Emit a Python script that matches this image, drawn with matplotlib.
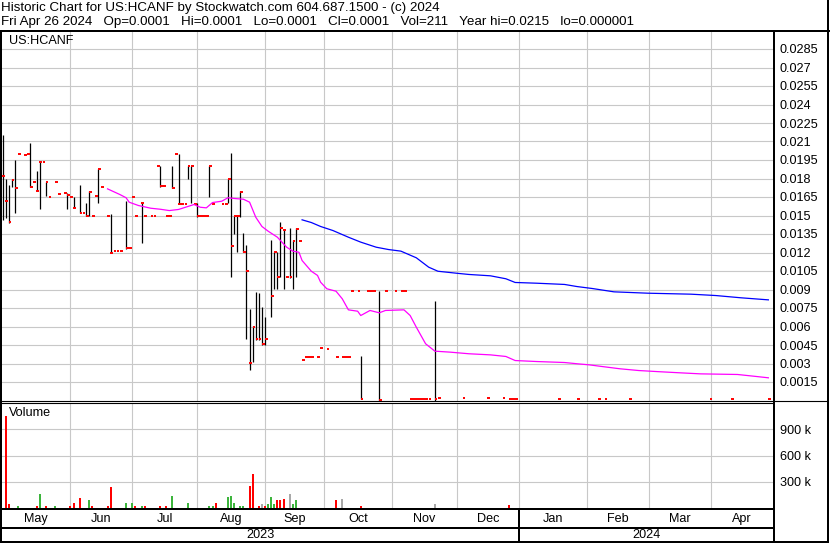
import numpy as np
import matplotlib
matplotlib.use("Agg")
import matplotlib.pyplot as plt
from matplotlib.lines import Line2D

plt.rcParams['font.family'] = ['Liberation Sans', 'DejaVu Sans']

W, H = 830, 543

# x = trading session index, 0 = first session of May 2023
# closes (red ticks)
close_day = [0, 1, 2, 3, 4, 5, 7, 8, 9, 10, 11, 12, 13, 14, 15, 17, 18, 20, 21, 22,
             23, 25, 26, 27, 28, 29, 30, 31, 32, 34, 35, 36, 37, 38, 40, 41, 42, 43, 45, 46,
             48, 49, 50, 51, 52, 53, 54, 55, 56, 57, 58, 59, 60, 61, 62, 63, 64, 65, 66, 67,
             68, 71, 72, 73, 74, 75, 76, 77, 78, 79, 80, 81, 82, 83, 84, 85, 87, 88, 89, 90,
             91, 92, 93, 94, 95, 96, 97, 98, 99, 100, 102, 103, 105, 108, 110, 111, 112, 113, 115, 116,
             118, 119, 120, 122, 124, 127, 129, 130, 132, 133, 134, 135, 136, 137, 138, 140, 141, 149, 157, 162,
             164, 165, 166, 180, 186, 193, 195, 203, 229, 236, 248]
close_px = [0.0182, 0.0162, 0.0145, 0.0179, 0.0172, 0.0200, 0.0199, 0.0200, 0.01735, 0.01768,
            0.01695, 0.0193, 0.0193, 0.01768, 0.01654, 0.01768, 0.01678, 0.0168, 0.0167, 0.01654,
            0.01557, 0.01524, 0.01524, 0.01492, 0.01692, 0.01492, 0.01656, 0.01877, 0.0173, 0.01492,
            0.0120, 0.01216, 0.01216, 0.01216, 0.01234, 0.01234, 0.01648, 0.01492, 0.01599, 0.01492,
            0.01492, 0.01492, 0.01905, 0.01737, 0.01737, 0.01492, 0.01492, 0.0172, 0.01995, 0.01597,
            0.01597, 0.01597, 0.019, 0.019, 0.01597, 0.01492, 0.01492, 0.01492, 0.01492, 0.019,
            0.01597, 0.01597, 0.01597, 0.01793, 0.0125, 0.01492, 0.01492, 0.01692, 0.01208, 0.01048,
            0.00304, 0.0060, 0.00495, 0.00495, 0.00456, 0.00495, 0.00847, 0.01206, 0.01005, 0.01395,
            0.01386, 0.01005, 0.01005, 0.01297, 0.0139, 0.01297, 0.00331, 0.00351, 0.00351, 0.00349,
            0.00349, 0.00422, 0.00414, 0.00349, 0.00349, 0.00349, 0.00349, 0.00885, 0.00885, 0.0001,
            0.00885, 0.00885, 0.00885, 0.00001, 0.00885, 0.00885, 0.00885, 0.00885, 0.0001, 0.0001,
            0.0001, 0.0001, 0.0001, 0.0001, 0.0001, 0.0001, 0.0002, 0.0002, 0.0002, 0.0002,
            0.0001, 0.0001, 0.0001, 0.0001, 0.0001, 0.0001, 0.0001, 0.0001, 0.0001, 0.0001, 0.0001]

# high-low ranges (black lines)
bar_day = [0, 1, 2, 3, 4, 9, 11, 12, 14, 21, 23, 25, 27, 28, 31, 35, 40, 45, 51, 55,
           57, 60, 61, 63, 67, 73, 74, 75, 76, 77, 78, 79, 80, 81, 82, 83, 84, 85, 87, 88,
           89, 90, 91, 93, 94, 95, 116, 122, 140]
bar_hi = [0.0215, 0.0180, 0.0175, 0.0180, 0.01946, 0.0209, 0.01857, 0.0193, 0.01768, 0.0168,
          0.01646, 0.0175, 0.01605, 0.01697, 0.0188, 0.01516, 0.0162, 0.01605, 0.01905, 0.01905,
          0.0200, 0.01905, 0.01905, 0.01605, 0.01905, 0.01795, 0.02005, 0.0150, 0.0150, 0.01697,
          0.01362, 0.01257, 0.00738, 0.00608, 0.00881, 0.00873, 0.00756, 0.00681, 0.01305, 0.01208,
          0.01202, 0.01449, 0.01389, 0.01395, 0.01305, 0.01395, 0.00357, 0.0089, 0.0081]
bar_lo = [0.0146, 0.0148, 0.0144, 0.01735, 0.01524, 0.01735, 0.01695, 0.0155, 0.0166, 0.0155,
          0.01557, 0.0152, 0.0150, 0.0150, 0.0160, 0.0120, 0.01232, 0.01275, 0.01735, 0.0172,
          0.01597, 0.01795, 0.0160, 0.01486, 0.01648, 0.0160, 0.0100, 0.01354, 0.01206, 0.01486,
          0.01202, 0.00497, 0.00249, 0.00311, 0.00492, 0.00492, 0.00454, 0.00454, 0.00675, 0.00902,
          0.00902, 0.0100, 0.00902, 0.00997, 0.00902, 0.0100, 0.0001, 0.0, 0.0]

# moving averages
ma_short_day = [34, 38, 40, 41, 44, 48, 51, 54, 57, 62, 64, 66, 68, 71, 73, 75, 78, 80, 82, 84,
                86, 89, 92, 94, 96, 97, 100, 102, 103, 105, 108, 110, 112, 115, 116, 119, 122, 124, 130, 132,
                134, 137, 140, 145, 151, 158, 163, 166, 173, 182, 186, 190, 194, 200, 206, 213, 219, 226, 238, 241,
                244, 248]
ma_short = [0.01716, 0.0167, 0.01644, 0.01608, 0.01581, 0.01559, 0.01551, 0.0154, 0.01549, 0.01589,
            0.01567, 0.01562, 0.01605, 0.01616, 0.01644, 0.01638, 0.01632, 0.01608, 0.01486, 0.01411,
            0.01373, 0.01324, 0.01243, 0.01211, 0.01202, 0.01135, 0.01048, 0.01014, 0.00959, 0.00906,
            0.00886, 0.00825, 0.00735, 0.00724, 0.00689, 0.0073, 0.00711, 0.0073, 0.00735, 0.00689,
            0.00594, 0.0046, 0.0040, 0.00392, 0.00379, 0.0037, 0.00357, 0.00324, 0.00316, 0.00308,
            0.00298, 0.00289, 0.00276, 0.00257, 0.00243, 0.00233, 0.00225, 0.00216, 0.00211, 0.00203,
            0.00195, 0.00184]
ma_long_day = [97, 100, 103, 107, 112, 116, 121, 125, 129, 134, 138, 141, 147, 151, 158, 163, 166, 173, 182, 186,
               191, 198, 209, 223, 231, 239, 248]
ma_long = [0.01465, 0.01443, 0.01411, 0.01378, 0.01324, 0.01284, 0.01243, 0.01224, 0.01211, 0.01157,
           0.01081, 0.01048, 0.01032, 0.01022, 0.01011, 0.00987, 0.00957, 0.00951, 0.00941, 0.00924,
           0.00908, 0.00881, 0.0087, 0.00862, 0.00851, 0.00833, 0.00816]

# volume, thousands of shares; r = down, g = up, k = unchanged
vol_day = [1, 2, 3, 4, 5, 7, 8, 9, 10, 11, 12, 13, 14, 15, 17, 18, 20, 21, 22, 23,
           25, 26, 27, 28, 29, 30, 31, 32, 34, 35, 36, 37, 38, 40, 41, 42, 43, 45, 46, 48,
           49, 50, 51, 52, 53, 55, 56, 57, 58, 59, 60, 61, 62, 63, 64, 65, 66, 67, 68, 69,
           71, 72, 73, 74, 75, 76, 77, 78, 79, 80, 81, 82, 83, 84, 85, 86, 87, 88, 89, 90,
           91, 92, 93, 94, 95, 96, 97, 98, 99, 100, 102, 103, 105, 108, 110, 112, 113, 115, 116, 118,
           119, 122, 124, 127, 130, 132, 133, 135, 136, 137, 138, 140, 149, 157, 162, 164, 165, 166, 180, 186,
           193, 195, 203, 229, 236, 248]
vol_k = [1045, 53, 11, 11, 30, 11, 11, 11, 11, 23, 168, 11, 23, 11, 23, 11, 11, 11, 30, 57,
         114, 11, 11, 91, 30, 11, 11, 11, 30, 240, 11, 11, 11, 57, 11, 65, 23, 30, 23, 11,
         11, 11, 23, 11, 23, 145, 11, 11, 11, 11, 57, 11, 11, 11, 11, 11, 11, 23, 23, 57,
         11, 11, 126, 137, 57, 11, 30, 23, 11, 251, 389, 11, 30, 46, 23, 53, 126, 46, 91, 91,
         107, 11, 160, 46, 91, 11, 11, 11, 11, 11, 11, 11, 11, 100, 110, 11, 11, 11, 23, 11,
         11, 11, 11, 11, 11, 11, 11, 11, 11, 11, 11, 46, 11, 11, 11, 40, 11, 11, 11, 11,
         11, 11, 11, 11, 11, 11]
vol_dir = list("rrgggrrrrrgkrrgrkkrr"
               "rkkgrggrrrggkgkgrgrk"
               "kkrkrgrrkkgkkrrkkggr"
               "kkgggkggrrrgrkrgggrr"
               "rrkggrrgkkkgrrkgkrrg"
               "grgkkrrkkkkkkkkrrrkk"
               "kkkkkg")

month_names = ["May", "Jun", "Jul", "Aug", "Sep", "Oct", "Nov", "Dec", "Jan", "Feb", "Mar", "Apr"]
month_edges = [-0.5, 21.9, 41.9, 63.1, 85.1, 104.1, 126.2, 147.2, 167.3, 189.4, 209.4, 229.5, 249.5]
year_names = ["2023", "2024"]
year_edges = [-0.5, 167.3, 249.5]

price_ticks = [0.0015, 0.003, 0.0045, 0.006, 0.0075, 0.009, 0.0105, 0.012, 0.0135, 0.015,
               0.0165, 0.018, 0.0195, 0.021, 0.0225, 0.024, 0.0255, 0.027, 0.0285]
vol_ticks = [300, 600, 900]
vol_labels = ["300 k", "600 k", "900 k"]

header1 = "Historic Chart for US:HCANF by Stockwatch.com 604.687.1500 - (c) 2024"
header2 = ("Fri Apr 26 2024   Op=0.0001   Hi=0.0001   Lo=0.0001   Cl=0.0001   "
           "Vol=211   Year hi=0.0215   lo=0.000001")

GRID = '#c8c8c8'
RED = '#ff0000'
GREEN = '#3cb43c'
GRAY = '#a8a8a8'
FS = 9.1      # labels, ticks
FS_HEAD = 9.6  # two header lines

fig = plt.figure(figsize=(W / 100, H / 100), dpi=100, facecolor='white')


def px_axes(x0, y0, x1, y1):
    return fig.add_axes([x0 / W, 1 - y1 / H, (x1 - x0) / W, (y1 - y0) / H])


def frame_line(xs, ys, lw):
    fig.add_artist(Line2D([x / W for x in xs], [1 - y / H for y in ys],
                          transform=fig.transFigure, color='black', lw=lw,
                          solid_capstyle='butt'))


def plain(a):
    for s in a.spines.values():
        s.set_visible(False)
    a.set_xticks([])
    a.set_xlim(-0.5, 249.5)


# price panel
ax = px_axes(1, 32, 773, 400.5)
plain(ax)
ax.set_ylim(0, 368.5 * 0.0015 / 18.5)
for t in price_ticks:
    ax.axhline(t, color=GRID, lw=0.8, zorder=0)
for e in month_edges[1:-1]:
    ax.axvline(e, color=GRID, lw=0.8, zorder=0)
ax.vlines(bar_day, bar_lo, bar_hi, color='black', lw=0.9, zorder=2)
cd = np.array(close_day)
ax.hlines(close_px, cd - 0.05, cd + 0.85, color=RED, lw=1.4, zorder=3)
ax.plot(ma_short_day, ma_short, color='#ff00ff', lw=0.9, zorder=4)
ax.plot(ma_long_day, ma_long, color='#0000ff', lw=0.9, zorder=4)
ax.yaxis.tick_right()
ax.set_yticks(price_ticks)
ax.set_yticklabels([f"{t:g}" for t in price_ticks], fontsize=FS)
ax.tick_params(axis='y', length=0, pad=5)

# volume panel
axv = px_axes(1, 402.5, 773, 508.5)
plain(axv)
axv.set_ylim(0, 1200)
for t in vol_ticks:
    axv.axhline(t, color=GRID, lw=0.8, zorder=0)
for e in month_edges[1:-1]:
    axv.axvline(e, color=GRID, lw=0.8, zorder=0)
cmap = {'r': RED, 'g': GREEN, 'k': GRAY}
axv.bar(vol_day, vol_k, width=0.65, color=[cmap[c] for c in vol_dir], zorder=2)
axv.yaxis.tick_right()
axv.set_yticks(vol_ticks)
axv.set_yticklabels(vol_labels, fontsize=FS)
axv.tick_params(axis='y', length=0, pad=5)

# month and year rows
axm = px_axes(1, 509, 773, 527.5)
axm.set_axis_off()
axm.set_xlim(-0.5, 249.5)
axm.set_ylim(0, 1)
for k, m in enumerate(month_names):
    axm.text((month_edges[k] + month_edges[k + 1]) / 2, 0.45, m,
             ha='center', va='center', fontsize=FS)
axy = px_axes(1, 527.5, 773, 541.5)
axy.set_axis_off()
axy.set_xlim(-0.5, 249.5)
axy.set_ylim(0, 1)
for k, yname in enumerate(year_names):
    axy.text((year_edges[k] + year_edges[k + 1]) / 2, 0.45, yname,
             ha='center', va='center', fontsize=FS)

# header and panel labels
fig.text(1 / W, 1 - 7.5 / H, header1, va='center', fontsize=FS_HEAD)
fig.text(1 / W, 1 - 22.5 / H, header2, va='center', fontsize=FS_HEAD)
fig.text(9 / W, 1 - 41 / H, "US:HCANF", va='center', fontsize=FS)
fig.text(9 / W, 1 - 413 / H, "Volume", va='center', fontsize=FS)

# chart frame
frame_line([0, W], [31, 31], 1.44)
frame_line([0.5, 0.5], [31, 541.5], 1.44)
frame_line([828, 828], [0, 541.5], 1.44)
frame_line([773.5, 773.5], [31, 541.5], 1.44)
frame_line([0, 828], [400.5, 400.5], 0.8)
frame_line([0, 773], [402.5, 402.5], 0.8)
frame_line([0, 773], [509, 509], 1.44)
frame_line([0, 773], [527.5, 527.5], 1.44)
frame_line([0, 829], [541.5, 541.5], 1.44)
xj = 1 + (year_edges[1] + 0.5) * 3.088
frame_line([xj, xj], [509, 541.5], 1.44)

fig.savefig("out.png", dpi=100)
print("saved out.png")
